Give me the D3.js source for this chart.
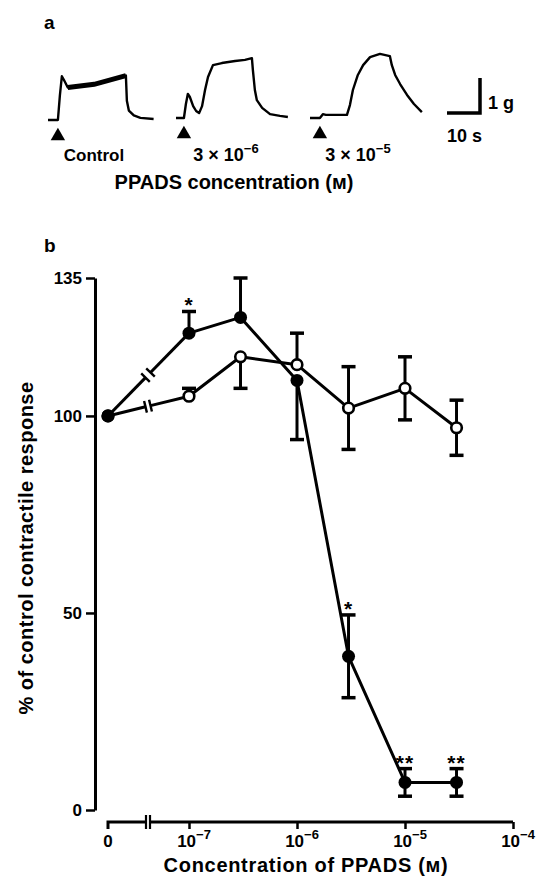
<!DOCTYPE html>
<html>
<head>
<meta charset="utf-8">
<script src="https://cdn.jsdelivr.net/npm/d3@7"></script>
<style>
  body { margin: 0; background: #fff; }
  text { font-family: "Liberation Sans", Arial, sans-serif; fill: #000; font-weight: bold; }
</style>
</head>
<body>
<svg id="fig" width="547" height="876"></svg>
<script>
// ---- panel a: example traces (time in s, tension in g above baseline)
const traceControl = [[0,0],[3,0],[3.6,0.7],[4.2,1.25],[4.8,1.15],[6,0.93],[14,1.02],[23.6,1.27],[23.9,0.55],[24.5,0.27],[26,0.13],[28,0.06],[32,0.03]];
const traceControlBand = [[6,0.93],[14,1.02],[23.6,1.27]];
const trace3e6 = [[0,0],[2.4,0],[3,0.4],[3.6,0.69],[4.2,0.6],[5.2,0.34],[6.1,0.2],[7,0.14],[7.9,0.34],[8.8,0.8],[9.7,1.17],[11.2,1.51],[13.9,1.57],[17.9,1.63],[20.9,1.66],[23,1.71],[23.3,1.37],[23.9,0.8],[24.5,0.51],[26.1,0.29],[28.5,0.11],[31.5,0.06],[33.9,0.03]];
const trace3e5 = [[0,0],[3,0],[3.9,0.11],[4.8,0.09],[11.2,0.09],[12.1,0.37],[13,0.8],[14.5,1.23],[16.1,1.51],[18.2,1.74],[21.2,1.83],[24.2,1.77],[24.8,1.51],[25.8,1.23],[27.3,0.97],[29.4,0.66],[31.5,0.4],[33.9,0.17]];
const traceLabels = [["Control", ""], ["3 × 10", "−6"], ["3 × 10", "−5"]];

// ---- panel b: concentration-response data
const conc = [0, 1e-7, 3e-7, 1e-6, 3e-6, 1e-5, 3e-5];
const filledMean = [100, 121, 125, 109, 39, 7, 7];
const filledErrUp = [0, 5.5, 10, 0, 10.5, 3.5, 3.5];
const filledErrDown = [0, 0, 0, 15, 10.5, 3.5, 3.5];
const filledSig = ["", "*", "", "", "*", "**", "**"];
const openMean = [100, 105, 115, 113, 102, 107, 97];
const openErrUp = [0, 2, 0, 8, 10.5, 8, 7];
const openErrDown = [0, 0, 8, 0, 10.5, 8, 7];
const yTicks = [0, 50, 100, 135];
const xTicks = [1e-7, 1e-6, 1e-5, 1e-4];
const xTickExp = ["−7", "−6", "−5", "−4"];

const svg = d3.select("#fig");

// ================= panel a =================
svg.append("text").attr("x", 44).attr("y", 29).style("font-size", "19px").text("a");

const tx = d3.scaleLinear().domain([0, 10]).range([0, 33]);
const ty = d3.scaleLinear().domain([0, 1]).range([0, -35]);
const traceLine = d3.line().x(d => tx(d[0])).y(d => ty(d[1]));

const traces = [
  { data: traceControl, ox: 48, oy: 120, label: traceLabels[0], cx: 94 },
  { data: trace3e6, ox: 176, oy: 118, label: traceLabels[1], cx: 226 },
  { data: trace3e5, ox: 310, oy: 118, label: traceLabels[2], cx: 358 }
];

traces.forEach(t => {
  const g = svg.append("g").attr("transform", `translate(${t.ox},${t.oy})`);
  g.append("path").attr("d", traceLine(t.data))
    .attr("fill", "none").attr("stroke", "#000").attr("stroke-width", 2.4)
    .attr("stroke-linejoin", "round");
  // stimulus marker
  g.append("path").attr("d", d3.symbol(d3.symbolTriangle, 90)())
    .attr("transform", `translate(${tx(t.data[1][0])},${16})`);
  const lt = svg.append("text").attr("x", t.cx).attr("y", 161).attr("text-anchor", "middle")
    .style("font-size", t.label[1] ? "18px" : "17px");
  lt.append("tspan").text(t.label[0]);
  if (t.label[1]) lt.append("tspan").attr("dy", -8).style("font-size", "13px").text(t.label[1]);
});
// thick plateau band of control trace
svg.append("g").attr("transform", "translate(48,120)")
  .append("path").attr("d", traceLine(traceControlBand))
  .attr("fill", "none").attr("stroke", "#000").attr("stroke-width", 5);

svg.append("text").attr("x", 234).attr("y", 189).attr("text-anchor", "middle")
  .style("font-size", "20px").text("PPADS concentration (м)");

// scale bar
const sb = svg.append("g").attr("transform", "translate(480,113)");
sb.append("path").attr("d", `M${-tx(10)},0H0V${ty(1)}`)
  .attr("fill", "none").attr("stroke", "#000").attr("stroke-width", 3.5);
sb.append("text").attr("x", 8).attr("y", -4).style("font-size", "18px").text("1 g");
sb.append("text").attr("x", -tx(10)).attr("y", 29).style("font-size", "18px").text("10 s");

// ================= panel b =================
svg.append("text").attr("x", 44).attr("y", 252).style("font-size", "19px").text("b");

const y = d3.scaleLinear().domain([0, 135]).range([810, 278]);
const x = d3.scaleLog().domain([1e-7, 1e-4]).range([189, 513]);
const xZero = 108, xBreak = 148;
const xp = c => c === 0 ? xZero : x(c);

// y axis
const yAxis = svg.append("g").attr("transform", "translate(95,0)")
  .call(d3.axisLeft(y).tickValues(yTicks).tickSize(9).tickSizeOuter(0).tickPadding(4));
yAxis.select(".domain").attr("stroke-width", 3);
yAxis.selectAll(".tick line").attr("stroke-width", 2.5);
yAxis.selectAll(".tick text").style("font-size", "17px").style("font-weight", "bold")
  .style("font-family", "'Liberation Sans', Arial, sans-serif");

svg.append("text").attr("transform", "translate(33,548) rotate(-90)")
  .attr("text-anchor", "middle").style("font-size", "20px").style("letter-spacing", "0.5px")
  .text("% of control contractile response");

// x axis (with break after zero)
const axY = 822;
const xAxis = svg.append("g").attr("transform", `translate(0,${axY})`)
  .call(d3.axisBottom(x).tickValues(xTicks).tickFormat("").tickSize(7));
xAxis.select(".domain").remove();
xAxis.selectAll(".tick line").attr("stroke-width", 2.5);
const axG = svg.append("g").attr("stroke", "#000").attr("fill", "none");
axG.append("path").attr("d", `M${xZero},${axY + 7}V${axY}H${xBreak - 2}`).attr("stroke-width", 3);
axG.append("path").attr("d", `M${xBreak + 2},${axY}H${x(1e-4)}`).attr("stroke-width", 3);
[xBreak - 2, xBreak + 2].forEach(bx =>
  axG.append("line").attr("x1", bx).attr("x2", bx).attr("y1", axY - 7).attr("y2", axY + 7).attr("stroke-width", 2.2));

const xl = svg.append("g").style("font-size", "17px");
xl.append("text").attr("x", xZero).attr("y", 847).attr("text-anchor", "middle").text("0");
xTicks.forEach((v, i) => {
  const t = xl.append("text").attr("x", x(v) + 5).attr("y", 847).attr("text-anchor", "middle");
  t.append("tspan").text("10");
  t.append("tspan").attr("dy", -8).style("font-size", "13px").text(xTickExp[i]);
});
svg.append("text").attr("x", 306).attr("y", 872).attr("text-anchor", "middle")
  .style("font-size", "20px").style("letter-spacing", "0.7px").text("Concentration of PPADS (м)");

// series
function series(mean, up, down) {
  const pts = conc.map((c, i) => ({ c, v: mean[i], up: up[i], down: down[i], i }));
  const g = svg.append("g");
  const line = d3.line().x(d => xp(d.c)).y(d => y(d.v));
  // broken first segment
  const p0 = pts[0], p1 = pts[1];
  const x0 = xp(p0.c), y0 = y(p0.v), x1 = xp(p1.c), y1 = y(p1.v);
  const f = xx => y0 + (y1 - y0) * (xx - x0) / (x1 - x0);
  const gap = 2.5;
  g.append("path").attr("d", `M${x0},${y0}L${xBreak - gap},${f(xBreak - gap)}`)
    .attr("stroke", "#000").attr("stroke-width", 3).attr("fill", "none");
  g.append("path").attr("d", `M${xBreak + gap},${f(xBreak + gap)}L${x1},${y1}`)
    .attr("stroke", "#000").attr("stroke-width", 3).attr("fill", "none");
  const ang = Math.atan2(y1 - y0, x1 - x0) + Math.PI / 2;
  [xBreak - gap, xBreak + gap].forEach(bx => {
    const by = f(bx), L = 6;
    g.append("line").attr("x1", bx - L * Math.cos(ang)).attr("y1", by - L * Math.sin(ang))
      .attr("x2", bx + L * Math.cos(ang)).attr("y2", by + L * Math.sin(ang))
      .attr("stroke", "#000").attr("stroke-width", 2.4);
  });
  g.append("path").attr("d", line(pts.slice(1)))
    .attr("stroke", "#000").attr("stroke-width", 3).attr("fill", "none").attr("stroke-linejoin", "round");
  // error bars
  pts.forEach(d => {
    const cx = xp(d.c);
    [[d.up, 1], [d.down, -1]].forEach(([e, s]) => {
      if (!e) return;
      const ye = y(d.v + s * e);
      g.append("line").attr("x1", cx).attr("x2", cx).attr("y1", y(d.v)).attr("y2", ye)
        .attr("stroke", "#000").attr("stroke-width", 3);
      g.append("line").attr("x1", cx - 7).attr("x2", cx + 7).attr("y1", ye).attr("y2", ye)
        .attr("stroke", "#000").attr("stroke-width", 3.5);
    });
  });
  return { g, pts };
}

const fs = series(filledMean, filledErrUp, filledErrDown);
const os = series(openMean, openErrUp, openErrDown);

fs.g.selectAll("circle.pt").data(fs.pts).join("circle").attr("class", "pt")
  .attr("cx", d => xp(d.c)).attr("cy", d => y(d.v)).attr("r", 6.5).attr("fill", "#000");
os.g.selectAll("circle.pt").data(os.pts).join("circle").attr("class", "pt")
  .attr("cx", d => xp(d.c)).attr("cy", d => y(d.v)).attr("r", 5.3)
  .attr("fill", d => d.c === 0 ? "#000" : "#fff").attr("stroke", "#000").attr("stroke-width", 2.6);

// significance stars
svg.append("g").selectAll("text").data(fs.pts.filter(d => filledSig[d.i]))
  .join("text").attr("x", d => xp(d.c)).attr("y", d => y(d.v + d.up) + 1)
  .attr("text-anchor", "middle").style("font-size", "21px").style("letter-spacing", "1px")
  .text(d => filledSig[d.i]);
</script>
</body>
</html>
